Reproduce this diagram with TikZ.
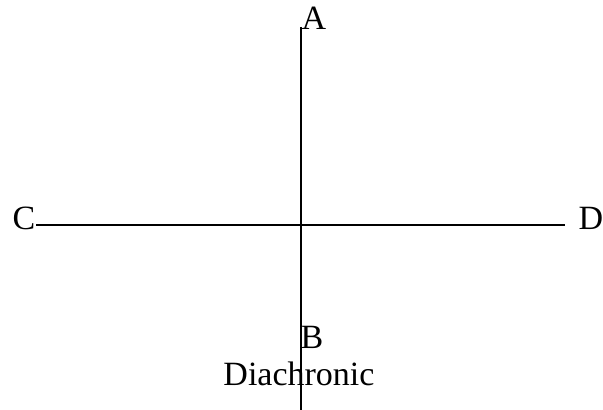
\documentclass[tikz,border=0pt]{standalone}
\usepackage{fontspec}
\setmainfont{Liberation Serif}
\begin{document}
\begin{tikzpicture}[x=1pt,y=1pt,
  lbl/.style={inner sep=0pt,anchor=base,font=\fontsize{34}{40}\selectfont},
  axis/.style={line width=1.5pt}]
\useasboundingbox (0,0) rectangle (603,410);
\node[lbl] (A) at (314,380) {A};
\node[lbl] (C) at (24,180) {C};
\node[lbl] (D) at (591,180) {D};
\node[lbl] (B) at (312,61) {B};
\node[lbl] (Dia) at (299,24) {Diachronic};
\coordinate (top) at (301,383);
\coordinate (bot) at (301,0);
\coordinate (left) at (36,185);
\coordinate (right) at (565,185);
\draw[axis] (top) -- (bot);
\draw[axis] (left) -- (right);
\end{tikzpicture}
\end{document}
